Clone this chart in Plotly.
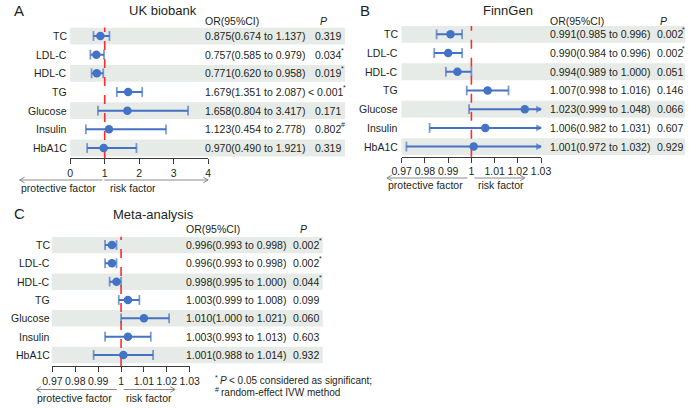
import plotly.graph_objects as go

W, H = 698, 408

# ---------------- data ----------------
markers = ["TC", "LDL-C", "HDL-C", "TG", "Glucose", "Insulin", "HbA1C"]

uk_or = [0.875, 0.757, 0.771, 1.679, 1.658, 1.123, 0.970]
uk_lo = [0.674, 0.585, 0.620, 1.351, 0.804, 0.454, 0.490]
uk_hi = [1.137, 0.979, 0.958, 2.087, 3.417, 2.778, 1.921]
uk_p = ["0.319", "0.034", "0.019", "< 0.001", "0.171", "0.802", "0.319"]
uk_mark = ["", "*", "*", "*", "", "#", ""]

fg_or = [0.991, 0.990, 0.994, 1.007, 1.023, 1.006, 1.001]
fg_lo = [0.985, 0.984, 0.989, 0.998, 0.999, 0.982, 0.972]
fg_hi = [0.996, 0.996, 1.000, 1.016, 1.048, 1.031, 1.032]
fg_p = ["0.002", "0.002", "0.051", "0.146", "0.066", "0.607", "0.929"]
fg_mark = ["*", "*", "", "", "", "", ""]

meta_or = [0.996, 0.996, 0.998, 1.003, 1.010, 1.003, 1.001]
meta_lo = [0.993, 0.993, 0.995, 0.999, 1.000, 0.993, 0.988]
meta_hi = [0.998, 0.998, 1.000, 1.008, 1.021, 1.013, 1.014]
meta_p = ["0.002", "0.002", "0.044", "0.099", "0.060", "0.603", "0.932"]
meta_mark = ["*", "*", "*", "", "", "", ""]

uk_tickvals = [0, 1, 2, 3, 4]
uk_ticktext = ["0", "1", "2", "3", "4"]
small_tickvals = [0.97, 0.98, 0.99, 1.0, 1.01, 1.02, 1.03]
small_ticktext = ["0.97", "0.98", "0.99", "1", "1.01", "1.02", "1.03"]

shaded_rows = [0, 2, 4, 6]

# ---------------- style ----------------
FONT = "Liberation Sans, Arial, sans-serif"
TXT = "#231f20"
BLUE = "#4472C4"
BAND = "#E6EBE7"
RED = "#FF2A2A"
GRAY = "#8a8a8a"
AX = "#3a3a3a"
FS = 10.5
# approximate Arial/Liberation advance widths (em) used to place superscript marks after P values
CHAR_EM = {"<": 0.584, " ": 0.278, ".": 0.278}


def text_w(s, size=FS):
    return sum(CHAR_EM.get(c, 0.556) for c in s) * size


def px(x):
    return x / W


def py(y):
    return 1 - y / H


def note(x, y, text, xanchor="left", size=FS, xref="paper", yref="paper", style="normal", **kw):
    return dict(xref=xref, yref=yref, x=x, y=y, xanchor=xanchor, yanchor="middle", text=text,
                showarrow=False, borderpad=0,
                font=dict(family=FONT, size=size, color=TXT, style=style), **kw)


panels = [
    dict(key="", letter="A", title="UK biobank", orv=uk_or, lo=uk_lo, hi=uk_hi, p=uk_p, mark=uk_mark,
         letter_xy=(3, 10), title_xy=(157, 10), head_y=20.5, or_x=200, p_hdr_x=323, p_x=313.3,
         c0=36, step=18.67, axis_y=158, xdom=(62, 204), xrange=(0, 4),
         tv=uk_tickvals, tt=uk_ticktext, band=(62, 345), lab_r=60,
         arr_y=180, l_tail=95, l_tip=10, r_tail=97, r_tip=204, arr_txt_y=188, prot_x=10, risk_x=102),
    dict(key="2", letter="B", title="FinnGen", orv=fg_or, lo=fg_lo, hi=fg_hi, p=fg_p, mark=fg_mark,
         letter_xy=(359, 10), title_xy=(513, 10), head_y=20.5, or_x=555, p_hdr_x=673, p_x=664.7,
         c0=34.3, step=18.72, axis_y=156.7, xdom=(403.3, 546.7), xrange=(0.97, 1.03),
         tv=small_tickvals, tt=small_ticktext, band=(403, 695), lab_r=400,
         arr_y=178, l_tail=471, l_tip=388, r_tail=478, r_tip=530, arr_txt_y=185.5, prot_x=388.5, risk_x=481),
    dict(key="3", letter="C", title="Meta-analysis", orv=meta_or, lo=meta_lo, hi=meta_hi, p=meta_p, mark=meta_mark,
         letter_xy=(3, 213), title_xy=(147.5, 214.5), head_y=229, or_x=180.3, p_hdr_x=302, p_x=290.5,
         c0=245, step=18.33, axis_y=366, xdom=(43.7, 185), xrange=(0.97, 1.03),
         tv=small_tickvals, tt=small_ticktext, band=(43, 322), lab_r=42.5,
         arr_y=389.5, l_tail=110, l_tip=27, r_tail=117, r_tip=170, arr_txt_y=398, prot_x=27, risk_x=118),
]

fig = go.Figure()
shapes = []
annots = []
layout_axes = {}

for P in panels:
    k = P["key"]
    xref = "x" + k
    yref = "y" + k
    top_px = P["c0"] - 0.45 * P["step"]
    ybot_val = (P["axis_y"] - P["c0"]) / P["step"]
    xmin, xmax = P["xrange"]
    rows = list(range(len(markers)))

    # axes
    layout_axes["xaxis" + k] = dict(
        domain=[px(P["xdom"][0]), px(P["xdom"][1])], range=list(P["xrange"]), anchor=yref,
        tickvals=P["tv"], ticktext=P["tt"], ticks="outside", ticklen=5, tickwidth=1, tickcolor=AX,
        tickangle=0, showline=True, linecolor=AX, linewidth=1, showgrid=False, zeroline=False,
        tickfont=dict(family=FONT, size=FS, color=TXT), fixedrange=True)
    layout_axes["yaxis" + k] = dict(
        domain=[py(P["axis_y"]), py(top_px)], range=[ybot_val, -0.45], anchor=xref,
        visible=False, showgrid=False, zeroline=False, fixedrange=True)

    # CI lines with caps / arrows
    xs, ys, syms, sizes = [], [], [], []
    for i in rows:
        lo, hi = P["lo"][i], P["hi"][i]
        lo_c, hi_c = max(lo, xmin), min(hi, xmax)
        xs += [lo_c, hi_c, None]
        ys += [i, i, None]
        syms += ["arrow-left" if lo < xmin else "line-ns", "arrow-right" if hi > xmax else "line-ns", "circle"]
        sizes += [4 if lo < xmin else 7, 4 if hi > xmax else 7, 0]
    fig.add_trace(go.Scatter(
        x=xs, y=ys, xaxis=xref, yaxis=yref, mode="lines+markers", cliponaxis=False,
        line=dict(color=BLUE, width=2),
        marker=dict(symbol=syms, size=sizes, color=BLUE, line=dict(color=BLUE, width=1.8)),
        hoverinfo="skip", showlegend=False))
    # point estimates
    fig.add_trace(go.Scatter(
        x=P["orv"], y=rows, xaxis=xref, yaxis=yref, mode="markers", cliponaxis=False,
        marker=dict(symbol="circle", size=8.5, color=BLUE),
        showlegend=False))

    # shaded bands
    for i in shaded_rows:
        shapes.append(dict(type="rect", xref="paper", yref=yref, x0=px(P["band"][0]), x1=px(P["band"][1]),
                           y0=i - 0.45, y1=i + 0.45, fillcolor=BAND, line=dict(width=0), layer="below"))
    # reference line at OR = 1
    shapes.append(dict(type="line", xref=xref, yref=yref + " domain", x0=1, x1=1, y0=0, y1=1,
                       line=dict(color=RED, width=1.6, dash="dash"), layer="below"))

    # row labels, OR text, P values
    for i in rows:
        annots.append(note(px(P["lab_r"]), i, markers[i], xanchor="right", yref=yref))
        ortxt = "{:.3f}({:.3f} to {:.3f})".format(P["orv"][i], P["lo"][i], P["hi"][i])
        annots.append(note(px(P["or_x"]), i, ortxt, yref=yref))
        ps = P["p"][i]
        shift = -7 if ps.startswith("<") else 0
        annots.append(note(px(P["p_x"]), i, ps.replace("<", "&lt;"), yref=yref, xshift=shift))
        if P["mark"][i]:
            annots.append(note(px(P["p_x"] + shift + text_w(ps) + 0.3), i, P["mark"][i], yref=yref,
                               size=7, yshift=4.5))

    # headers, title, letter
    annots.append(note(px(P["or_x"]), py(P["head_y"]), "OR(95%CI)"))
    annots.append(note(px(P["p_hdr_x"]), py(P["head_y"]), "P", xanchor="center", style="italic"))
    annots.append(note(px(P["title_xy"][0]), py(P["title_xy"][1]), P["title"], xanchor="center", size=13))
    annots.append(note(px(P["letter_xy"][0]), py(P["letter_xy"][1]), P["letter"], size=15))

    # direction arrows
    ay = py(P["arr_y"])
    hx, hy = 5 / W, 2.8 / H
    for tail, tip, d in [(P["l_tail"], P["l_tip"], 1), (P["r_tail"], P["r_tip"], -1)]:
        shapes.append(dict(type="line", xref="paper", yref="paper", x0=px(tail), x1=px(tip),
                           y0=ay, y1=ay, line=dict(color=GRAY, width=1)))
        shapes.append(dict(type="path", xref="paper", yref="paper",
                           path="M{},{} L{},{} L{},{}".format(px(tip) + d * hx, ay + hy, px(tip), ay,
                                                              px(tip) + d * hx, ay - hy),
                           line=dict(color=GRAY, width=1)))
    annots.append(note(px(P["prot_x"]), py(P["arr_txt_y"]), "protective factor"))
    annots.append(note(px(P["risk_x"]), py(P["arr_txt_y"]), "risk factor"))

# footnotes
annots.append(note(px(210), py(380), "*", size=7, yshift=3))
annots.append(note(px(215.5), py(380), "P", size=10, style="italic"))
annots.append(note(px(224), py(380), "&lt; 0.05 considered as significant;", size=10))
annots.append(note(px(210), py(392.5), "#", size=7, yshift=3))
annots.append(note(px(216), py(392.5), "random-effect IVW method", size=10))

fig.update_layout(
    width=W, height=H, margin=dict(l=0, r=0, t=0, b=0),
    paper_bgcolor="white", plot_bgcolor="white", showlegend=False,
    font=dict(family=FONT, size=FS, color=TXT),
    shapes=shapes, annotations=annots, **layout_axes)

fig.write_html("out.html", config={"displayModeBar": False},
               post_script="document.body.style.margin='0';document.body.style.overflow='hidden';")
